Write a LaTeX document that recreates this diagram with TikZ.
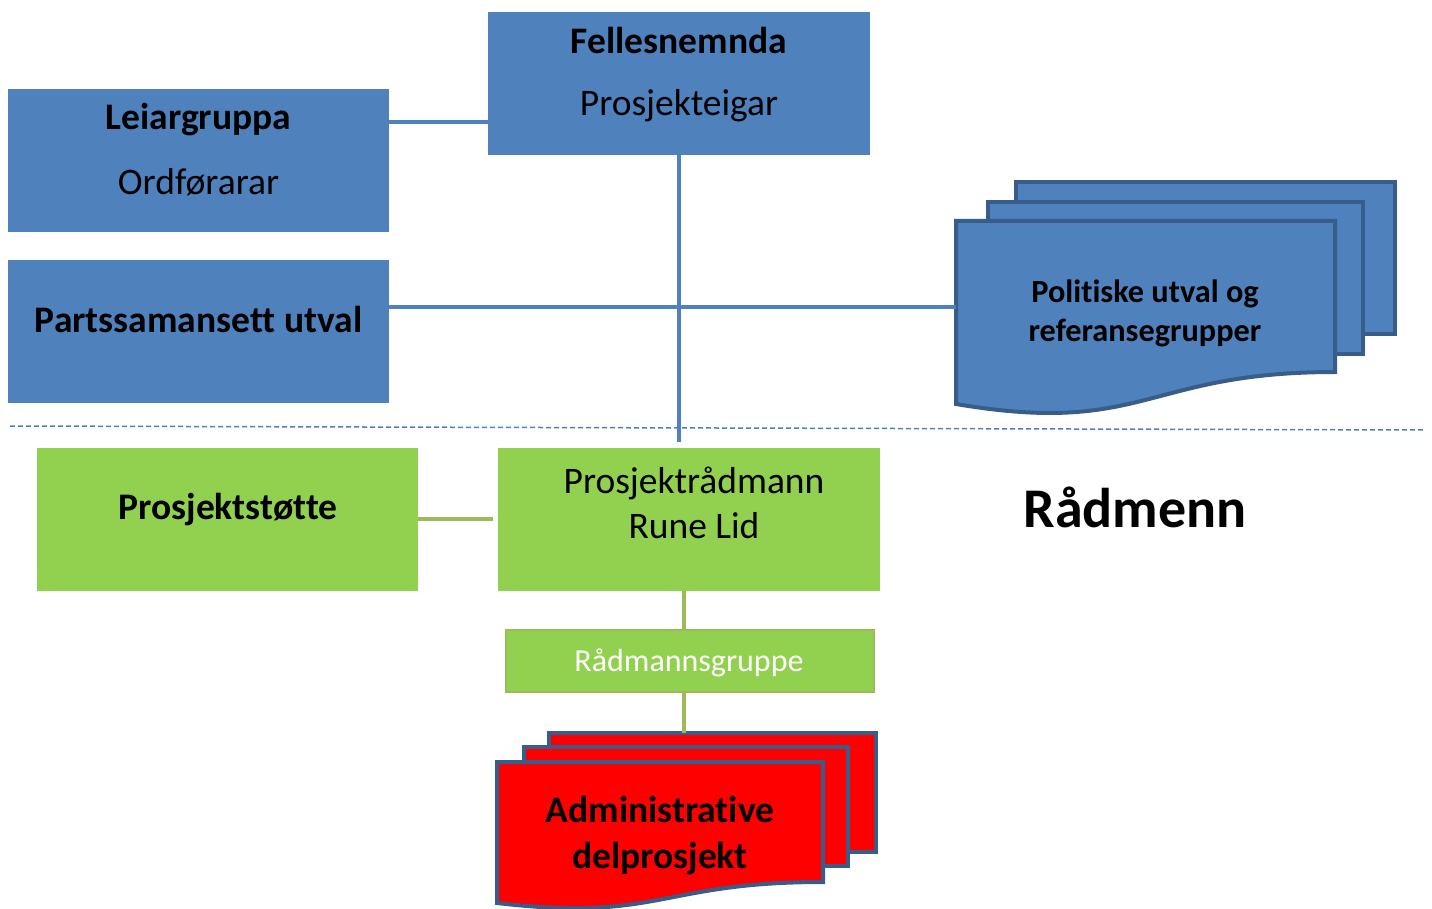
\documentclass[tikz,border=0pt]{standalone}
\usepackage{fontspec}
\setmainfont[Ligatures={NoCommon}]{Carlito}
\definecolor{boxblue}{HTML}{4F81BD}
\definecolor{docedge}{HTML}{385D8A}
\definecolor{boxgreen}{HTML}{92D050}
\definecolor{linegreen}{HTML}{9BBB59}
\definecolor{dred}{HTML}{FF0000}
\begin{document}
\begin{tikzpicture}[x=1pt,y=-1pt,
  bluebox/.style={rectangle,fill=boxblue,draw=none,inner sep=0pt},
  greenbox/.style={rectangle,fill=boxgreen,draw=none,inner sep=0pt},
  bluelink/.style={draw=boxblue,line width=4.5pt},
  greenlink/.style={draw=linegreen,line width=4.5pt},
  doc/.style={line width=4pt,draw=docedge,line join=miter},
  txt/.style={inner sep=0pt,align=center,font=\fontsize{37.5}{45}\selectfont},
  btxt/.style={inner sep=0pt,align=center,font=\fontsize{37.5}{45}\selectfont\bfseries},
]
\useasboundingbox[fill=white] (0,0) rectangle (1432,909);

% boxes
\node[bluebox,minimum width=382pt,minimum height=143pt] (fel) at (679,83.5) {};
\node[bluebox,minimum width=381pt,minimum height=143pt] (lei) at (198.5,160.5) {};
\node[bluebox,minimum width=381pt,minimum height=143pt] (par) at (198.5,331.5) {};
\node[greenbox,minimum width=381pt,minimum height=143pt] (pst) at (227.5,519.5) {};
\node[greenbox,minimum width=382pt,minimum height=143pt] (prm) at (689,519.5) {};
\node[rectangle,fill=boxgreen,draw=linegreen,line width=2pt,inner sep=0pt,minimum width=368pt,minimum height=62pt] (rgr) at (689.5,660.5) {};

% Politiske multidocument
\filldraw[doc,fill=boxblue] (1016,182) -- (1395,182) -- (1395,334) -- (1363,334) -- (1363,202) -- (1016,202) -- cycle;
\filldraw[doc,fill=boxblue] (988,202) -- (1363,202) -- (1363,354) -- (1335,354) -- (1335,221) -- (988,221) -- cycle;
\filldraw[doc,fill=boxblue] (956,221) -- (1335,221) -- (1335,372)
  .. controls (1145,372) and (1145,436) .. (956,404) -- cycle;
\coordinate (polL) at (956,307);

% Administrative multidocument
\filldraw[doc,fill=dred] (549,733) -- (876,733) -- (876,852) -- (848,852) -- (848,747) -- (549,747) -- cycle;
\filldraw[doc,fill=dred] (524,747) -- (848,747) -- (848,866) -- (823,866) -- (823,762) -- (524,762) -- cycle;
\filldraw[doc,fill=dred] (497,762) -- (823,762) -- (823,882)
  .. controls (660,882) and (660,922) .. (497,903) -- cycle;
\coordinate (admT) at (684,733);

% dashed separator
\coordinate (dashL) at (10,426);
\coordinate (dashR) at (1425,430);
\draw[boxblue,line width=1.5pt,dash pattern=on 5pt off 3pt] (dashL) -- (dashR);

% connectors
\draw[bluelink] (lei.east |- 0,122) -- (fel.west |- 0,122);
\draw[bluelink] (par.east |- 0,307) -- (polL);
\draw[bluelink] (fel.south -| 679,0) -- ([yshift=6pt]prm.north -| 679,0);
\draw[greenlink] (pst.east |- 0,519) -- ([xshift=-5pt]prm.west |- 0,519);
\draw[greenlink] (prm.south -| 684,0) -- (rgr.north -| 684,0);
\draw[greenlink] (rgr.south -| 684,0) -- (admT);

% texts
\node[btxt] (tfel) at (679,40) {Fellesnemnda};
\node[txt] (tfel2) at (679,106) {Prosjekteigar};
\node[btxt] (tlei) at (198.5,120) {Leiargruppa};
\node[txt] (tlei2) at (198.5,182) {Ordførarar};
\node[btxt] (tpar) at (198.5,319) {Partssamansett utval};
\node[btxt,font=\fontsize{32.3}{39}\selectfont\bfseries] (tpol) at (1145,313) {Politiske utval og\\referansegrupper};
\node[btxt] (tpst) at (228,510) {Prosjektstøtte};
\node[txt,font=\fontsize{37.5}{45}\selectfont] (tprm) at (694,503) {Prosjektrådmann\\Rune Lid};
\node[btxt,font=\fontsize{56}{60}\selectfont\bfseries] (trad) at (1135,507) {Rådmenn};
\node[txt,font=\fontsize{32}{38}\selectfont,text=white] (trgr) at (689,663) {Rådmannsgruppe};
\node[btxt,font=\fontsize{37.5}{46}\selectfont\bfseries] (tadm) at (660,836) {Administrative\\delprosjekt};
\end{tikzpicture}
\end{document}
